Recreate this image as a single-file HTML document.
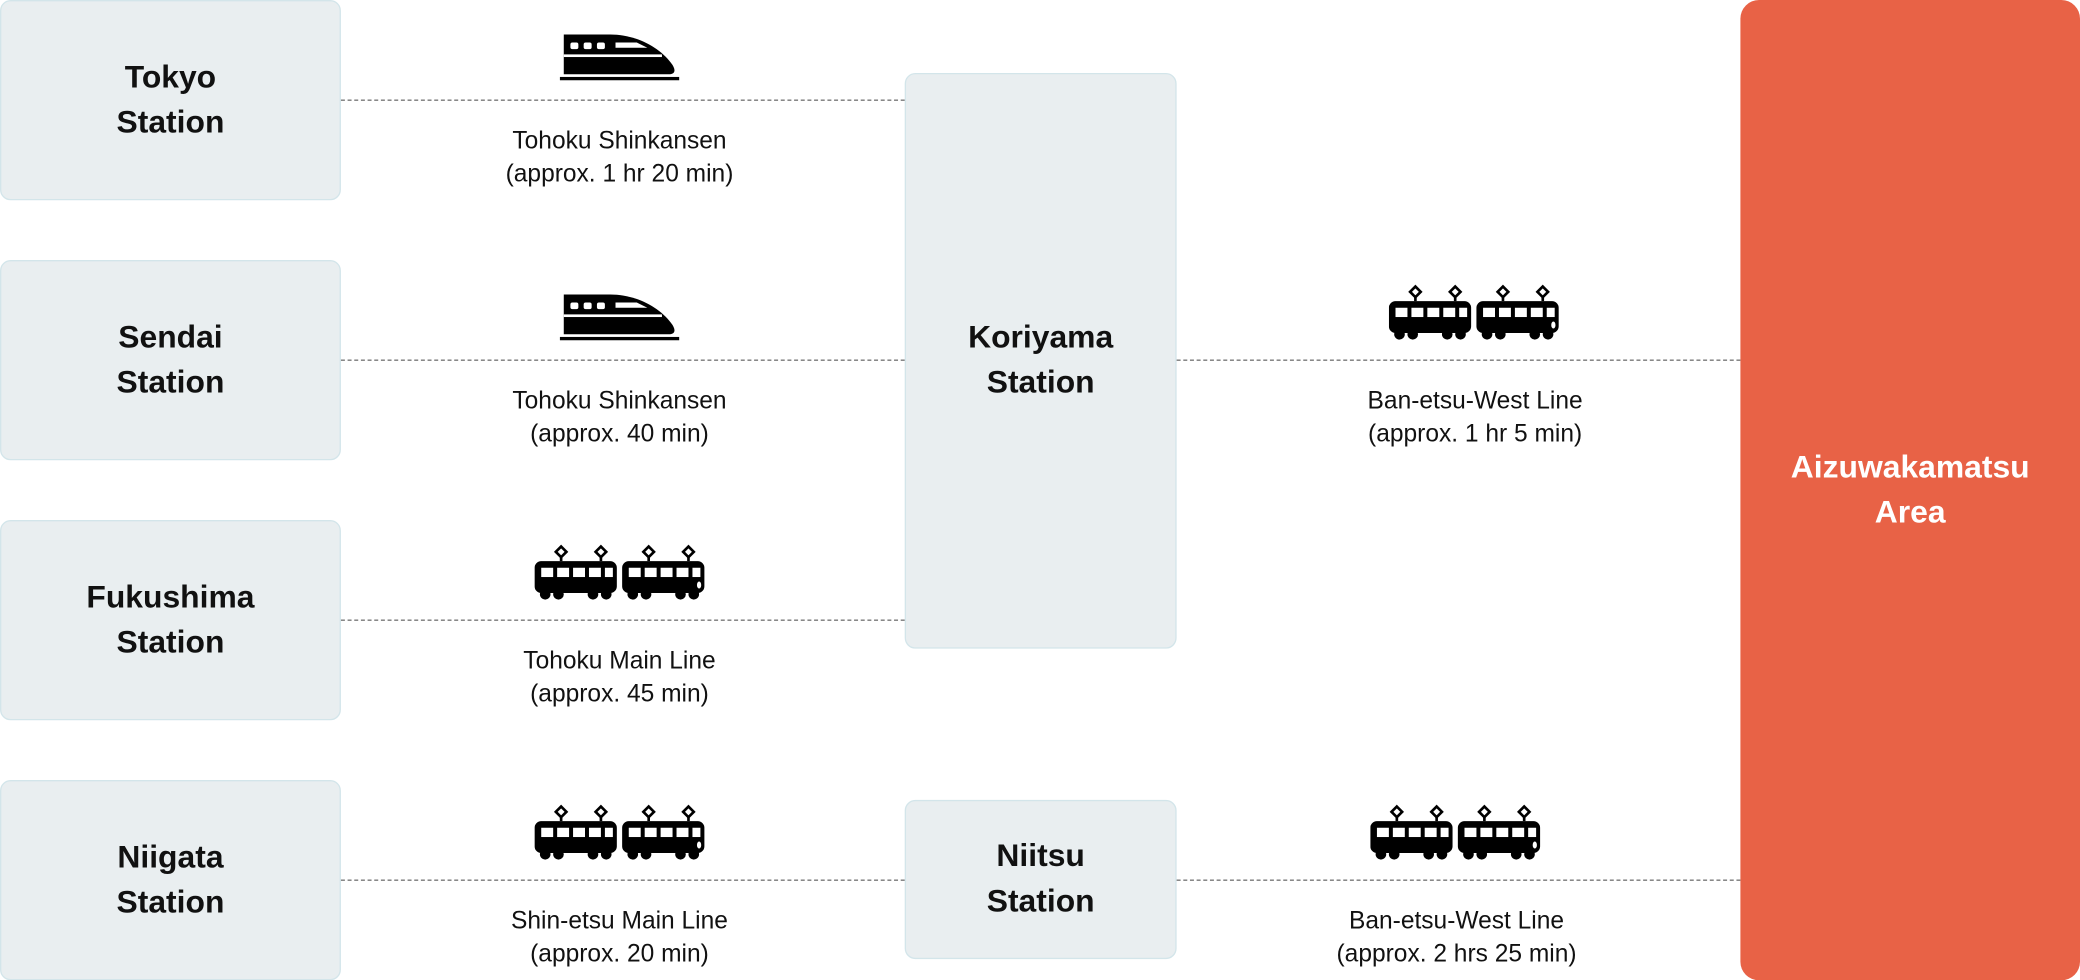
<!DOCTYPE html>
<html><head><meta charset="utf-8"><style>
html,body{margin:0;padding:0;background:#fff;}
body{width:2080px;height:980px;overflow:hidden;position:relative;}
#w{position:absolute;left:0;top:0;width:1568px;height:739px;transform:scale(1.32653);transform-origin:0 0;font-family:"Liberation Sans","Noto Sans CJK JP",sans-serif;color:#111;}
.box{position:absolute;background:#e9eef0;border:1px solid #d3e5ea;border-radius:8px;box-sizing:border-box;display:flex;align-items:center;justify-content:center;text-align:center;font-weight:bold;font-size:24px;line-height:34px;}
.dl{position:absolute;height:0;border-top:1px dashed #777;}
.lb{position:absolute;text-align:center;font-size:18.5px;line-height:25px;width:300px;}
svg.i{position:absolute;}
</style></head><body><div id="w">
<svg width="0" height="0" style="position:absolute">
<defs>
<g id="sk">
<path d="M3 2 H38 C58 2 76 12 85 25 C88 30 86 32 82 32 H3 Z" fill="#000"/>
<rect x="8" y="8" width="6" height="5" rx="1.5" fill="#fff"/>
<rect x="18" y="8" width="6" height="5" rx="1.5" fill="#fff"/>
<rect x="28" y="8" width="6" height="5" rx="1.5" fill="#fff"/>
<path d="M42 8 H58 L66 12 H42 Z" fill="#fff"/>
<rect x="3" y="17" width="74" height="2" fill="#fff"/>
<rect x="0" y="34" width="90" height="2.5" fill="#000"/>
</g>
<g id="car">
<path d="M16 12 l4 -4 l4 4 l-4 4z M46 12 l4 -4 l4 4 l-4 4z" fill="none" stroke="#000" stroke-width="2"/>
<line x1="20" y1="16" x2="20" y2="19" stroke="#000" stroke-width="2"/>
<line x1="50" y1="16" x2="50" y2="19" stroke="#000" stroke-width="2"/>
<rect x="0" y="19" width="62" height="24" rx="5" fill="#000"/>
<rect x="5" y="24" width="9" height="7" fill="#fff"/><rect x="17" y="24" width="9" height="7" fill="#fff"/><rect x="29" y="24" width="9" height="7" fill="#fff"/><rect x="41" y="24" width="9" height="7" fill="#fff"/><rect x="53" y="24" width="6" height="7" fill="#fff"/>
<circle cx="8" cy="44" r="4" fill="#000"/><circle cx="18" cy="44" r="4" fill="#000"/><circle cx="44" cy="44" r="4" fill="#000"/><circle cx="54" cy="44" r="4" fill="#000"/>
</g>
<g id="tr">
<use href="#car"/>
<g transform="translate(66,0)"><use href="#car"/><ellipse cx="58" cy="37" rx="1.6" ry="2.6" fill="#fff"/></g>
</g>
</defs></svg>

<div class="box" style="left:0;top:0;width:257px;height:151px;">Tokyo<br>Station</div>
<div class="box" style="left:0;top:196px;width:257px;height:151px;">Sendai<br>Station</div>
<div class="box" style="left:0;top:392px;width:257px;height:151px;">Fukushima<br>Station</div>
<div class="box" style="left:0;top:588px;width:257px;height:151px;">Niigata<br>Station</div>
<div class="box" style="left:682px;top:55px;width:205px;height:434px;">Koriyama<br>Station</div>
<div class="box" style="left:682px;top:603px;width:205px;height:120px;">Niitsu<br>Station</div>
<div class="box" style="left:1312px;top:0;width:256px;height:739px;background:#e86246;border:none;border-radius:14px;color:#fff;">Aizuwakamatsu<br>Area</div>

<div class="dl" style="left:257px;top:75px;width:425px;"></div>
<div class="dl" style="left:257px;top:271px;width:425px;"></div>
<div class="dl" style="left:257px;top:467px;width:425px;"></div>
<div class="dl" style="left:257px;top:663px;width:425px;"></div>
<div class="dl" style="left:887px;top:271px;width:425px;"></div>
<div class="dl" style="left:887px;top:663px;width:425px;"></div>

<svg class="i" style="left:422px;top:24px" width="92" height="38"><use href="#sk"/></svg>
<svg class="i" style="left:422px;top:220px" width="92" height="38"><use href="#sk"/></svg>
<svg class="i" style="left:403px;top:404px" width="130" height="50"><use href="#tr"/></svg>
<svg class="i" style="left:403px;top:600px" width="130" height="50"><use href="#tr"/></svg>
<svg class="i" style="left:1047px;top:208px" width="130" height="50"><use href="#tr"/></svg>
<svg class="i" style="left:1033px;top:600px" width="130" height="50"><use href="#tr"/></svg>

<div class="lb" style="left:317px;top:93px;">Tohoku Shinkansen<br>(approx. 1 hr 20 min)</div>
<div class="lb" style="left:317px;top:289px;">Tohoku Shinkansen<br>(approx. 40 min)</div>
<div class="lb" style="left:317px;top:485px;">Tohoku Main Line<br>(approx. 45 min)</div>
<div class="lb" style="left:317px;top:681px;">Shin-etsu Main Line<br>(approx. 20 min)</div>
<div class="lb" style="left:962px;top:289px;">Ban-etsu-West Line<br>(approx. 1 hr 5 min)</div>
<div class="lb" style="left:948px;top:681px;">Ban-etsu-West Line<br>(approx. 2 hrs 25 min)</div>
</div></body></html>
